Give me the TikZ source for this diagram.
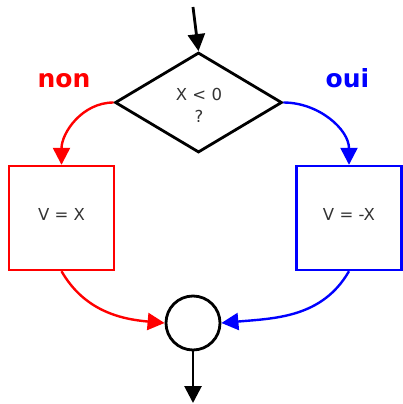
\documentclass[tikz,border=0pt]{standalone}
\usepackage{fontspec}
\setmainfont{DejaVu Sans}
\usetikzlibrary{shapes.geometric,arrows.meta}
\definecolor{txtgray}{HTML}{333333}
\tikzset{
  blk/.style={line width=2.8pt,draw=black},
  tip/.style={-{Triangle[length=17pt,width=17pt]}},
  redline/.style={line width=2.4pt,draw=red,tip,red},
  blueline/.style={line width=2.4pt,draw=blue,tip,blue},
  decision/.style={diamond,blk,minimum width=167pt,minimum height=100pt,inner sep=0pt},
  qtext/.style={font=\fontsize{16.5}{22}\selectfont,text=txtgray,align=center,inner sep=0pt},
  action/.style={rectangle,line width=2.4pt,minimum width=105pt,minimum height=104pt,inner sep=0pt,
    font=\fontsize{16.5}{22}\selectfont,text=txtgray,text height=12pt,text depth=8pt},
  joinc/.style={circle,blk,minimum size=54pt,inner sep=0pt},
  lbl/.style={font=\bfseries\fontsize{25}{30}\selectfont,inner sep=0pt,anchor=base}
}
\begin{document}
\begin{tikzpicture}[x=1pt,y=1pt]
\useasboundingbox (0,0) rectangle (402,-404);
\coordinate (start) at (193,-7);
\node[decision] (d) at (198.5,-102.5) {};
\node[qtext] (qt) at (199,-105) {X < 0\\?};
\node[action,draw=red] (L) at (61.5,-218) {V = X};
\node[action,draw=blue] (R) at (349,-218) {V = -X};
\node[joinc] (c) at (193,-323) {};
\coordinate (end) at (193,-403);
\node[lbl,text=red] (non) at (64,-87) {non};
\node[lbl,text=blue] (oui) at (347.5,-87) {oui};
\draw[blk,tip] (start) -- (d.north);
\draw[redline] (d.west) to[out=180,in=90] (L.north);
\draw[blueline] (d.east) to[out=0,in=90] (R.north);
\draw[redline] (L.south) to[out=-60,in=175] (c.west);
\draw[blueline] (R.south) to[out=-120,in=5] (c.east);
\draw[blk,tip] (c.south) -- (end);
\end{tikzpicture}
\end{document}
